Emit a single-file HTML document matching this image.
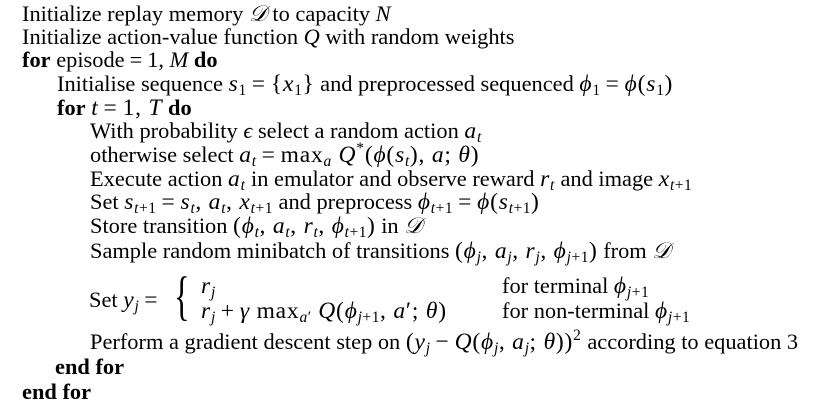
<!DOCTYPE html>
<html><head><style>
body{margin:0;width:821px;height:403px;background:#fff;position:relative;overflow:hidden;font-family:"Liberation Serif","DejaVu Serif",serif;font-size:22.4px;color:#000}
.l{position:absolute;white-space:nowrap;line-height:20px}
i{font-style:italic}
b{font-weight:bold}
.mt{font-size:23.5px;letter-spacing:0.8px}
sub{font-size:15.5px;vertical-align:-4px;line-height:0;letter-spacing:0.5px}
sup{font-size:15.5px;vertical-align:9px;line-height:0}
.o{padding:0 5px}
</style></head><body>
<div class="l" style="left:22px;top:4px">Initialize replay memory <i>𝒟</i> to capacity <i>N</i></div>
<div class="l" style="left:22px;top:27px">Initialize action-value function <i>Q</i> with random weights</div>
<div class="l" style="left:22px;top:50px"><b>for</b> episode<span class="o">=</span>1, <i>M</i> <b>do</b></div>
<div class="l" style="left:57px;top:74px">Initialise sequence <span class="mt"><i>s</i><sub>1</sub><span class="o">=</span>{<i>x</i><sub>1</sub>}</span> and preprocessed sequenced <span class="mt"><i>ϕ</i><sub>1</sub><span class="o">=</span><i>ϕ</i>(<i>s</i><sub>1</sub>)</span></div>
<div class="l" style="left:57px;top:98px"><b>for</b> <span class="mt"><i>t</i><span class="o">=</span>1, <i>T</i></span> <b>do</b></div>
<div class="l" style="left:90px;top:121px">With probability <i>ϵ</i> select a random action <span class="mt"><i>a<sub>t</sub></i></span></div>
<div class="l" style="left:90px;top:145px">otherwise select <span class="mt"><i>a<sub>t</sub></i><span class="o">=</span>max<sub><i>a</i></sub> <i>Q</i><sup>*</sup>(<i>ϕ</i>(<i>s<sub>t</sub></i>), <i>a</i>; <i>θ</i>)</span></div>
<div class="l" style="left:90px;top:169px">Execute action <span class="mt"><i>a<sub>t</sub></i></span> in emulator and observe reward <span class="mt"><i>r<sub>t</sub></i></span> and image <span class="mt"><i>x</i><sub><i>t</i>+1</sub></span></div>
<div class="l" style="left:90px;top:192px">Set <span class="mt"><i>s</i><sub><i>t</i>+1</sub><span class="o">=</span><i>s<sub>t</sub></i>, <i>a<sub>t</sub></i>, <i>x</i><sub><i>t</i>+1</sub></span> and preprocess <span class="mt"><i>ϕ</i><sub><i>t</i>+1</sub><span class="o">=</span><i>ϕ</i>(<i>s</i><sub><i>t</i>+1</sub>)</span></div>
<div class="l" style="left:90px;top:216px">Store transition <span class="mt">(<i>ϕ<sub>t</sub></i>, <i>a<sub>t</sub></i>, <i>r<sub>t</sub></i>, <i>ϕ</i><sub><i>t</i>+1</sub>)</span> in <i>𝒟</i></div>
<div class="l" style="left:90px;top:241px">Sample random minibatch of transitions <span class="mt">(<i>ϕ<sub>j</sub></i>, <i>a<sub>j</sub></i>, <i>r<sub>j</sub></i>, <i>ϕ</i><sub><i>j</i>+1</sub>)</span> from <i>𝒟</i></div>
<div class="l" style="left:89px;top:290px">Set <span class="mt"><i>y<sub>j</sub></i><span class="o">=</span></span></div>
<div class="l" style="left:174px;top:271px;font-size:54px;line-height:50px;transform:scaleX(0.6);transform-origin:left">{</div>
<div class="l" style="left:201px;top:276px"><span class="mt"><i>r<sub>j</sub></i></span></div>
<div class="l" style="left:201px;top:301px"><span class="mt"><i>r<sub>j</sub></i><span class="o">+</span><i>γ</i> max<sub><i>a</i>′</sub> <i>Q</i>(<i>ϕ</i><sub><i>j</i>+1</sub>, <i>a</i>′; <i>θ</i>)</span></div>
<div class="l" style="left:502px;top:276px">for terminal <span class="mt"><i>ϕ</i><sub><i>j</i>+1</sub></span></div>
<div class="l" style="left:502px;top:301px">for non-terminal <span class="mt"><i>ϕ</i><sub><i>j</i>+1</sub></span></div>
<div class="l" style="left:90px;top:332px">Perform a gradient descent step on <span class="mt">(<i>y<sub>j</sub></i><span class="o">−</span><i>Q</i>(<i>ϕ<sub>j</sub></i>, <i>a<sub>j</sub></i>; <i>θ</i>))<sup>2</sup></span> according to equation 3</div>
<div class="l" style="left:55px;top:357px"><b>end for</b></div>
<div class="l" style="left:22px;top:382px"><b>end for</b></div>
</body></html>
